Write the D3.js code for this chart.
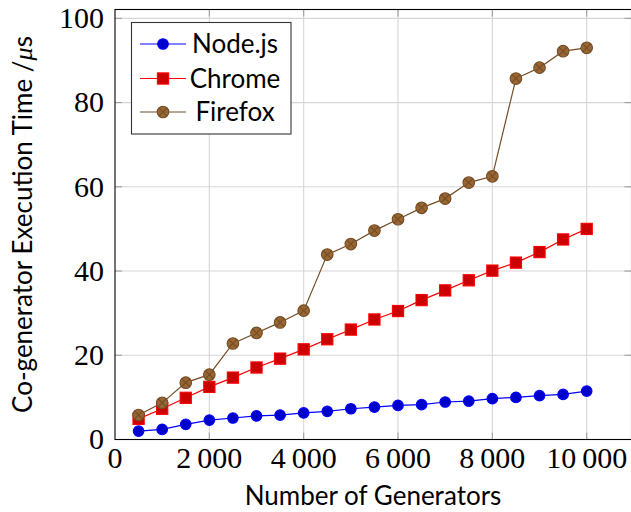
<!DOCTYPE html>
<html>
<head>
<meta charset="utf-8">
<script src="https://cdn.jsdelivr.net/npm/d3@7"></script>
<style>
  body { margin: 0; background: #fff; }
  svg { display: block; }
</style>
</head>
<body>
<svg id="svg"></svg>
<script>
// number of generators
const generators = [500, 1000, 1500, 2000, 2500, 3000, 3500, 4000, 4500, 5000,
  5500, 6000, 6500, 7000, 7500, 8000, 8500, 9000, 9500, 10000];
// execution times in microseconds
const nodeTimes = [2.0, 2.4, 3.6, 4.6, 5.1, 5.6, 5.8, 6.3, 6.7, 7.3,
  7.7, 8.1, 8.3, 8.9, 9.1, 9.7, 10.0, 10.4, 10.7, 11.5];
const chromeTimes = [4.9, 7.3, 9.9, 12.5, 14.7, 17.1, 19.2, 21.4, 23.8, 26.1,
  28.5, 30.5, 33.1, 35.4, 37.8, 40.1, 42.0, 44.5, 47.5, 50.0];
const firefoxTimes = [5.8, 8.7, 13.5, 15.4, 22.8, 25.3, 27.8, 30.6, 43.9, 46.4,
  49.6, 52.3, 55.0, 57.2, 61.0, 62.5, 85.7, 88.3, 92.2, 93.0];
const xTicks = [0, 2000, 4000, 6000, 8000, 10000];
const yTicks = [0, 20, 40, 60, 80, 100];
const seriesNames = ['Node.js', 'Chrome', 'Firefox'];

const svgWidth = 631, svgHeight = 512;
const plot = {left: 115, top: 9.5, right: 631.5, bottom: 439.5};

const svg = d3.select('#svg').attr('width', svgWidth).attr('height', svgHeight);

const xScale = d3.scaleLinear().domain([0, 10950]).range([plot.left, plot.right]);
const yScale = d3.scaleLinear().domain([0, 102.1]).range([plot.bottom, plot.top]);

const serifFont = '"Liberation Serif"';
const sansFont = '"Lato"';

// grid
const grid = svg.append('g');
grid.selectAll('.gx').data(xTicks.slice(1)).enter().append('line')
  .attr('x1', d => xScale(d)).attr('x2', d => xScale(d))
  .attr('y1', plot.top).attr('y2', plot.bottom)
  .attr('stroke', '#d6d6d6').attr('stroke-width', 1.1);
grid.selectAll('.gy').data(yTicks.slice(1)).enter().append('line')
  .attr('x1', plot.left).attr('x2', plot.right)
  .attr('y1', d => yScale(d)).attr('y2', d => yScale(d))
  .attr('stroke', '#d6d6d6').attr('stroke-width', 1.1);

// inner tick marks on all sides
const tickLen = 7;
const ticks = svg.append('g').attr('stroke', '#a0a0a0').attr('stroke-width', 1.1);
xTicks.slice(1).forEach(t => {
  ticks.append('line').attr('x1', xScale(t)).attr('x2', xScale(t))
    .attr('y1', plot.bottom).attr('y2', plot.bottom - tickLen);
  ticks.append('line').attr('x1', xScale(t)).attr('x2', xScale(t))
    .attr('y1', plot.top).attr('y2', plot.top + tickLen);
});
yTicks.slice(1).forEach(t => {
  ticks.append('line').attr('x1', plot.left).attr('x2', plot.left + tickLen)
    .attr('y1', yScale(t)).attr('y2', yScale(t));
  ticks.append('line').attr('x1', plot.right).attr('x2', plot.right - tickLen)
    .attr('y1', yScale(t)).attr('y2', yScale(t));
});

// axis frame
svg.append('rect')
  .attr('x', plot.left).attr('y', plot.top)
  .attr('width', plot.right - plot.left).attr('height', plot.bottom - plot.top)
  .attr('fill', 'none').attr('stroke', '#000').attr('stroke-width', 1.1);

// tick labels (thin space as thousands separator)
const fmt = d => String(d).replace(/(\d)(\d{3})$/, '$1\u2009$2');
svg.selectAll('.xlab').data(xTicks).enter().append('text')
  .attr('x', d => xScale(d)).attr('y', 468)
  .attr('text-anchor', 'middle')
  .style('font-family', serifFont).style('font-size', '30px')
  .text(fmt);
svg.selectAll('.ylab').data(yTicks).enter().append('text')
  .attr('x', 104).attr('y', d => yScale(d)).attr('dy', '0.33em')
  .attr('text-anchor', 'end')
  .style('font-family', serifFont).style('font-size', '30px')
  .text(d => d);

// axis labels
svg.append('text')
  .attr('x', (plot.left + 631) / 2).attr('y', 505)
  .attr('text-anchor', 'middle')
  .style('font-family', sansFont).style('font-size', '26px')
  .text('Number of Generators');
const yLabel = svg.append('text')
  .attr('transform', `translate(32,${(plot.top + plot.bottom) / 2}) rotate(-90)`)
  .attr('text-anchor', 'middle')
  .style('font-family', sansFont).style('font-size', '26px');
yLabel.append('tspan').text('Co-generator Execution Time /');
yLabel.append('tspan').style('font-family', serifFont).style('font-style', 'italic').text('\u03bc');
yLabel.append('tspan').text('s');

// series
const styles = [
  {values: nodeTimes, line: '#0000ff', fill: '#0000cc', stroke: '#0000ff', mark: 'circle'},
  {values: chromeTimes, line: '#ff0000', fill: '#cc0000', stroke: '#ff0000', mark: 'square'},
  {values: firefoxTimes, line: '#734d26', fill: '#996633', stroke: '#734d26', mark: 'otimes'}
];

function drawMark(g, s) {
  if (s.mark === 'circle') {
    g.append('circle').attr('r', 5.3).attr('fill', s.fill).attr('stroke', s.stroke).attr('stroke-width', 1.1);
  } else if (s.mark === 'square') {
    g.append('rect').attr('x', -5.6).attr('y', -5.6).attr('width', 11.2).attr('height', 11.2)
      .attr('fill', s.fill).attr('stroke', s.stroke).attr('stroke-width', 1.1);
  } else {
    g.append('circle').attr('r', 5.8).attr('fill', s.fill).attr('stroke', s.stroke).attr('stroke-width', 1.1);
    const k = 5.8 * Math.SQRT1_2;
    g.append('path').attr('d', `M${-k},${-k}L${k},${k}M${-k},${k}L${k},${-k}`)
      .attr('stroke', s.stroke).attr('stroke-width', 1.1);
  }
}

const line = d3.line().x(d => xScale(d[0])).y(d => yScale(d[1]));
styles.forEach(s => {
  const pts = generators.map((g, i) => [g, s.values[i]]);
  svg.append('path').datum(pts).attr('d', line)
    .attr('fill', 'none').attr('stroke', s.line).attr('stroke-width', 1.2);
  svg.append('g').selectAll('g').data(pts).enter().append('g')
    .attr('transform', d => `translate(${xScale(d[0])},${yScale(d[1])})`)
    .each(function () { drawMark(d3.select(this), s); });
});

// legend
const legend = svg.append('g');
legend.append('rect')
  .attr('x', 131.5).attr('y', 22.5).attr('width', 159.5).attr('height', 111.5)
  .attr('fill', '#fff').attr('stroke', '#333').attr('stroke-width', 1.1);
const rowY = [44, 78.5, 112];
styles.forEach((s, i) => {
  legend.append('line').attr('x1', 140).attr('x2', 186)
    .attr('y1', rowY[i]).attr('y2', rowY[i])
    .attr('stroke', s.line).attr('stroke-width', 1.2);
  const m = legend.append('g').attr('transform', `translate(163,${rowY[i]})`);
  drawMark(m, s);
  legend.append('text')
    .attr('x', 235).attr('y', rowY[i]).attr('dy', '0.36em')
    .attr('text-anchor', 'middle')
    .style('font-family', sansFont).style('font-size', '26px')
    .text(seriesNames[i]);
});
</script>
</body>
</html>
